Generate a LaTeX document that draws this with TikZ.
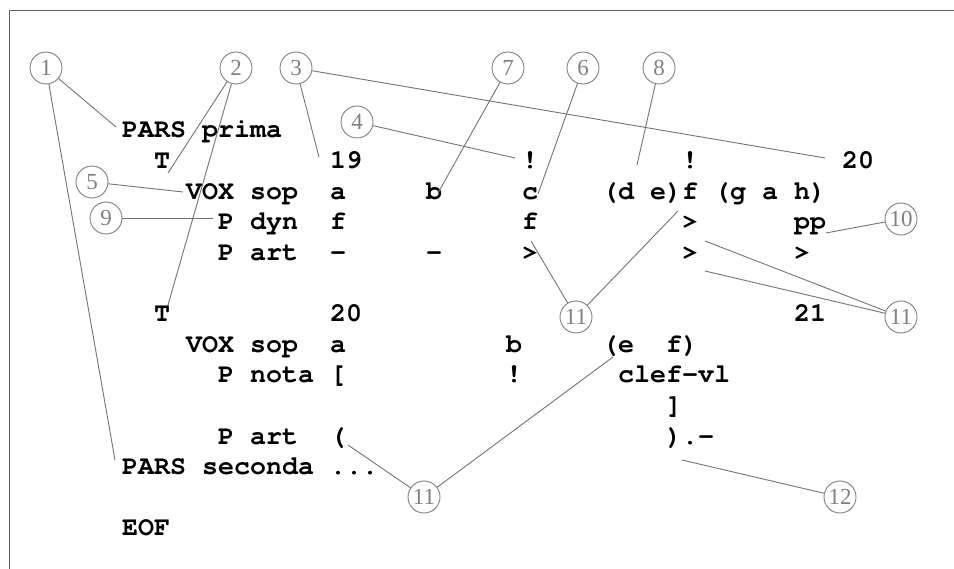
\documentclass[tikz,border=0pt]{standalone}
\usepackage{fontspec}
\newfontfamily\numfont{Liberation Serif}
% bold Courier (psnfss) for the listing
\newcommand\listingfont{\fontencoding{T1}\fontfamily{pcr}\fontseries{b}\fontsize{26.67bp}{30bp}\selectfont}
\definecolor{calloutgray}{RGB}{128,128,128}
\definecolor{linegray}{RGB}{115,115,115}
\definecolor{framegray}{RGB}{95,95,95}
% code token at column #2, row #3 of the listing
\newcommand\tk[4]{\node[code] (#1) at ({122+16*(#2)},{138+30.6*(#3)}) {#4};}
\begin{document}
\begin{tikzpicture}[x=1bp,y=-1bp,
  code/.style={anchor=base west, inner sep=0pt, font=\listingfont},
  callout/.style={circle, draw=calloutgray, text=calloutgray, line width=0.9bp,
    minimum size=32bp, inner sep=0pt, font=\fontsize{23bp}{23bp}\selectfont\numfont},
  leader/.style={draw=linegray, line width=0.9bp}]
\useasboundingbox (0,0) rectangle (954,569);

% frame
\draw[framegray, line width=1.2bp] (954,10.5) -- (9.5,10.5) -- (9.5,569);

% listing
\tk{parsA}{0}{0}{PARS prima}
\tk{tA}{2}{1}{T}
\tk{nA}{13}{1}{19}
\tk{exA}{25}{1}{!}
\tk{exB}{35}{1}{!}
\tk{nB}{45}{1}{20}
\tk{voxA}{4}{2}{VOX}
\tk{sopA}{8}{2}{sop}
\tk{aA}{13}{2}{a}
\tk{bA}{19}{2}{b}
\tk{cA}{25}{2}{c}
\tk{grpA}{30}{2}{(d e)f (g a h)}
\tk{pdyn}{6}{3}{P dyn}
\tk{fA}{13}{3}{f}
\tk{fB}{25}{3}{f}
\tk{gtA}{35}{3}{>}
\tk{ppA}{42}{3}{pp}
\tk{partA}{6}{4}{P art}
\tk{dsA}{13}{4}{-}
\tk{dsB}{19}{4}{-}
\tk{gtB}{25}{4}{>}
\tk{gtC}{35}{4}{>}
\tk{gtD}{42}{4}{>}
\tk{tB}{2}{6}{T}
\tk{nC}{13}{6}{20}
\tk{nD}{42}{6}{21}
\tk{voxB}{4}{7}{VOX}
\tk{sopB}{8}{7}{sop}
\tk{aB}{13}{7}{a}
\tk{bB}{24}{7}{b}
\tk{eB}{30}{7}{(e}
\tk{fC}{34}{7}{f)}
\tk{pnota}{6}{8}{P nota}
\tk{brA}{13}{8}{[}
\tk{exC}{24}{8}{!}
\tk{clef}{31}{8}{clef-vl}
\tk{brB}{34}{9}{]}
\tk{partB}{6}{10}{P art}
\tk{opA}{13}{10}{(}
\tk{clA}{34}{10}{).-}
\tk{parsB}{0}{11}{PARS seconda ...}
\tk{eof}{0}{13}{EOF}

% numbered callouts
\node[callout] (k1) at (46,68) {1};
\node[callout] (k2) at (236,68) {2};
\node[callout] (k3) at (296,68) {3};
\node[callout] (k4) at (357,122) {4};
\node[callout] (k5) at (92,182) {5};
\node[callout] (k7) at (508,68) {7};
\node[callout] (k6) at (583,68) {6};
\node[callout] (k8) at (659,68) {8};
\node[callout] (k9) at (106,218) {9};
\node[callout] (k10) at (901,219) {10};
\node[callout] (k11a) at (576,317) {11};
\node[callout] (k11b) at (901,317) {11};
\node[callout] (k11c) at (424,497) {11};
\node[callout] (k12) at (840,497) {12};

% leader line ends
\coordinate (e1a) at (116,127);
\coordinate (e1b) at (115,460);
\coordinate (e2a) at (168,173);
\coordinate (e2b) at (168,305);
\coordinate (e3a) at (319,157);
\coordinate (e3b) at (825,158);
\coordinate (e4) at (515,158);
\coordinate (e5) at (183,192);
\coordinate (e7) at (438,193);
\coordinate (e6) at (538,194);
\coordinate (e8) at (637,165);
\coordinate (e9) at (213,218);
\coordinate (e10) at (826,233);
\coordinate (e11a) at (531,241);
\coordinate (e11b) at (678,211);
\coordinate (e11c) at (705,241);
\coordinate (e11d) at (705,271);
\coordinate (e11e) at (348,445);
\coordinate (e11f) at (613,357);
\coordinate (e12) at (682,460);

% leader lines
\draw[leader] (k1) -- (e1a);
\draw[leader] (k1) -- (e1b);
\draw[leader] (k2) -- (e2a);
\draw[leader] (k2) -- (e2b);
\draw[leader] (k3) -- (e3a);
\draw[leader] (k3) -- (e3b);
\draw[leader] (k4) -- (e4);
\draw[leader] (k5) -- (e5);
\draw[leader] (k7) -- (e7);
\draw[leader] (k6) -- (e6);
\draw[leader] (k8) -- (e8);
\draw[leader] (k9) -- (e9);
\draw[leader] (k10) -- (e10);
\draw[leader] (k11a) -- (e11a);
\draw[leader] (k11a) -- (e11b);
\draw[leader] (k11b) -- (e11c);
\draw[leader] (k11b) -- (e11d);
\draw[leader] (k11c) -- (e11e);
\draw[leader] (k11c) -- (e11f);
\draw[leader] (k12) -- (e12);
\end{tikzpicture}
\end{document}
